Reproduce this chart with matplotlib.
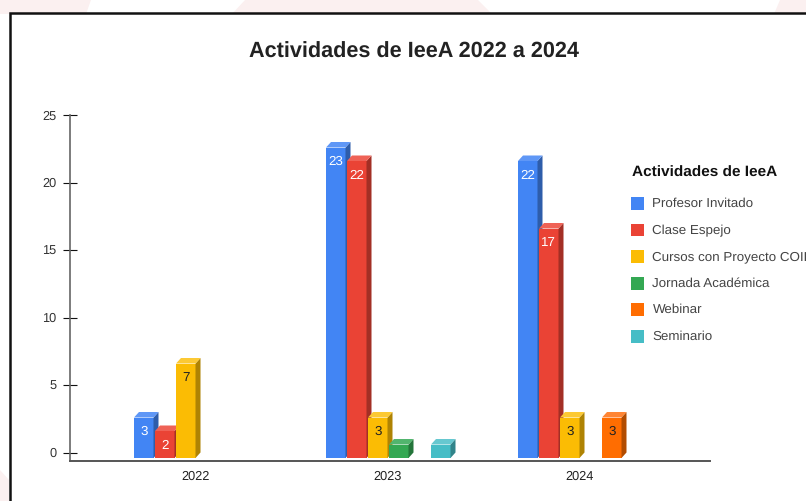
#!/usr/bin/env python3
import matplotlib
matplotlib.use('Agg')
import matplotlib.pyplot as plt
from matplotlib.patches import Polygon, Rectangle

plt.rcParams['font.family'] = ['Liberation Sans', 'DejaVu Sans']
plt.rcParams['text.hinting'] = 'no_hinting'

years = ['2022', '2023', '2024']
series = ['Profesor Invitado', 'Clase Espejo', 'Cursos con Proyecto COIL',
          'Jornada Académica', 'Webinar', 'Seminario']
profesor = [3, 23, 22]
clase = [2, 22, 17]
cursos = [7, 3, 3]
jornada = [0, 1, 0]
webinar = [0, 0, 3]
seminario = [0, 1, 0]
values = [profesor, clase, cursos, jornada, webinar, seminario]
yticks = [0, 5, 10, 15, 20, 25]

front = ['#4285f4', '#ea4335', '#fbbc04', '#34a853', '#ff6d01', '#46bdc6']
top_c = ['#5f97f6', '#ef6256', '#fcc934', '#52b56e', '#ff8534', '#66c8d0']
side = ['#2e5daa', '#a32f25', '#af8303', '#24753a', '#b24c01', '#31848a']
label_c = ['white', 'white', '#222222', '#222222', '#222222', '#222222']

W, H = 806, 501
fig = plt.figure(figsize=(W / 100, H / 100), dpi=100, facecolor='white')

def fx(px):
    return px / W

def fy(py):
    return 1 - py / H

# pink background shapes behind the white panel
for pts in [[(0, 0), (91, 0), (86, 14), (0, 14)],
            [(245, 0), (478, 0), (492, 14), (232, 14)],
            [(780, 0), (806, 0), (806, 14), (774, 14)],
            [(0, 470), (9, 480), (9, 501), (0, 501)]]:
    fig.add_artist(Polygon([(fx(a), fy(b)) for a, b in pts], closed=True,
                           transform=fig.transFigure, fc='#fbf0f0', ec='none', zorder=0))

# black frame, runs off the right and bottom edges
fig.add_artist(Rectangle((fx(9.5), fy(520)), fx(830), fy(12.5) - fy(520),
                         transform=fig.transFigure, fc='white', ec='#111111', lw=1.8, zorder=1))

# plot area
ax_left, ax_right, ax_top, ax_bottom = 70, 710, 115, 461
ax = fig.add_axes([fx(ax_left), fy(ax_bottom), fx(ax_right - ax_left), fy(ax_top) - fy(ax_bottom)])
ax.patch.set_alpha(0)
ax.set_zorder(2)

px_x = 192.0    # pixels per category
px_y = 13.5     # pixels per unit
x0 = 197.0      # pixel of the first category
ax.set_xlim((ax_left - x0) / px_x, (ax_right - x0) / px_x)
ax.set_ylim(-(ax_bottom - 452.5) / px_y, 25)

step = 21 / px_x
width = 19.5 / px_x
dx = 5.0 / px_x
dy = 5.5 / px_y
base = -dy

for j, vals in enumerate(values):
    for i, v in enumerate(vals):
        if v == 0:
            continue
        left = i + (j - 3) * step
        top = base + v
        ax.bar(left, v, width=width, bottom=base, align='edge', color=front[j], zorder=3)
        ax.add_patch(Polygon([(left + width, base), (left + width + dx, base + dy),
                              (left + width + dx, top + dy), (left + width, top)],
                             closed=True, fc=side[j], ec='none', zorder=3))
        ax.add_patch(Polygon([(left, top), (left + dx, top + dy),
                              (left + width + dx, top + dy), (left + width, top)],
                             closed=True, fc=top_c[j], ec='none', zorder=3))
        if v > 1:
            ax.text(left + width / 2, top - 14.5 / px_y, str(v), ha='center', va='center',
                    fontsize=9.6, color=label_c[j], zorder=4)

for s in ['top', 'right']:
    ax.spines[s].set_visible(False)
ax.spines['left'].set_color('#666666')
ax.spines['left'].set_linewidth(1.2)
ax.spines['bottom'].set_color('#555555')
ax.spines['bottom'].set_linewidth(1.4)

ax.set_yticks(yticks)
ax.set_yticklabels([str(t) for t in yticks])
ax.tick_params(axis='y', direction='inout', length=10, width=0.8, color='#111111',
               labelsize=9.2, labelcolor='#333333', pad=5)
ax.set_xticks([i - 0.008 for i in range(len(years))])
ax.set_xticklabels(years)
ax.tick_params(axis='x', length=0, labelsize=9.2, labelcolor='#222222', pad=6.5)

# title
fig.text(fx(413.5), fy(52), 'Actividades de IeeA 2022 a 2024', ha='center', va='center',
         fontsize=15.6, fontweight='bold', color='#222222', zorder=5)

# legend
fig.text(fx(632), fy(172.5), 'Actividades de IeeA', ha='left', va='center',
         fontsize=11.1, fontweight='bold', color='#111111', zorder=5)
legend_y = [203, 230, 256.5, 283, 309.5, 336]
for name, c, ly in zip(series, front, legend_y):
    fig.add_artist(Rectangle((fx(631), fy(ly + 6.5)), fx(13), fy(ly - 6.5) - fy(ly + 6.5),
                             transform=fig.transFigure, fc=c, ec='none', zorder=5))
    fig.text(fx(652.5), fy(ly + 0.5), name, ha='left', va='center', fontsize=9.6,
             color='#444444', zorder=5)

fig.savefig('out.png', dpi=100, facecolor='white')
